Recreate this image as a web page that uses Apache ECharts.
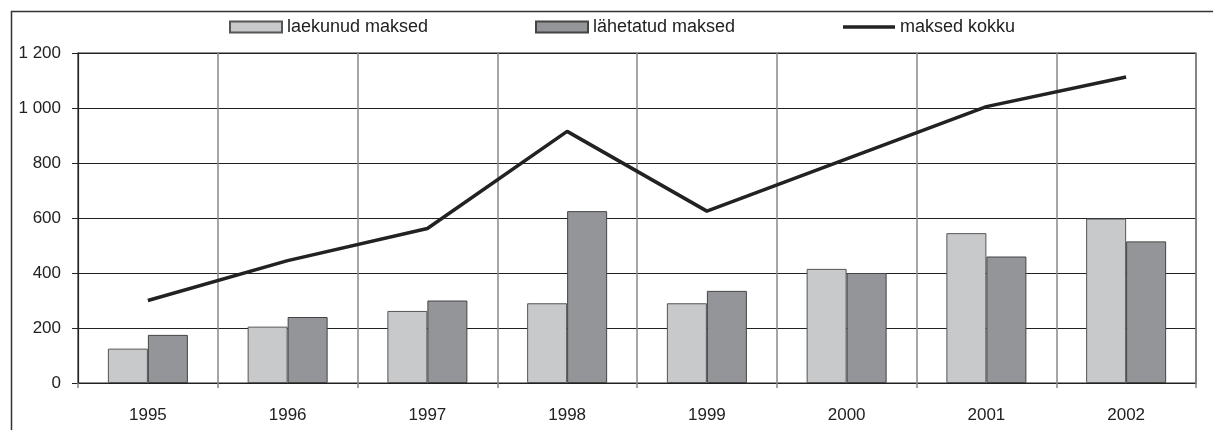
<!DOCTYPE html>
<html>
<head>
<meta charset="utf-8">
<script src="https://cdn.jsdelivr.net/npm/echarts@6/dist/echarts.min.js"></script>
<style>html,body{margin:0;padding:0;background:#fff}#c{width:1213px;height:430px}</style>
</head>
<body>
<div id="c"></div>
<script>
const categories = ['1995','1996','1997','1998','1999','2000','2001','2002'];
const received = [125, 205, 262, 290, 290, 415, 545, 598];
const sent = [175, 240, 300, 625, 335, 400, 460, 515];
const total = [300, 445, 562, 915, 625, 815, 1005, 1113];
const seriesNames = ['laekunud maksed', 'lähetatud maksed', 'maksed kokku'];
const yTicks = [0, 200, 400, 600, 800, 1000, 1200];

const font = 'Liberation Sans, Arial, sans-serif';
const chart = echarts.init(document.getElementById('c'), null, {renderer: 'canvas'});
const fmt = v => String(v).replace(/\B(?=(\d{3})+(?!\d))/g, ' ');

const legendBase = {
  top: 18, padding: 0, itemWidth: 52, itemHeight: 11, itemGap: 5,
  textStyle: {fontFamily: font, fontSize: 18, color: '#222'}
};
chart.setOption({
  animation: false,
  backgroundColor: '#fff',
  graphic: [{type: 'rect', left: 9, top: 9, shape: {width: 1220, height: 440}, style: {fill: 'none', stroke: '#333', lineWidth: 1.5}, z: 100}],
  legend: [
    Object.assign({}, legendBase, {left: 229, data: [{name: seriesNames[0], icon: 'rect'}]}),
    Object.assign({}, legendBase, {left: 535, data: [{name: seriesNames[1], icon: 'rect'}]}),
    Object.assign({}, legendBase, {left: 843,
      data: [{name: seriesNames[2], icon: 'path://M0,0 L52,0 L52,3.4 L0,3.4 Z', itemStyle: {color: '#222', borderWidth: 0}}]})
  ],
  grid: {left: 78, right: 17, top: 53, bottom: 47, show: true, borderColor: '#222', borderWidth: 1.2, backgroundColor: 'transparent'},
  xAxis: {
    type: 'category', data: categories,
    axisLine: {lineStyle: {color: '#222', width: 1.2}},
    axisTick: {show: true, length: 5, lineStyle: {color: '#888', width: 1.5}},
    splitLine: {show: true, lineStyle: {color: '#888', width: 1.5}},
    axisLabel: {fontFamily: font, fontSize: 17, color: '#222', margin: 24}
  },
  yAxis: {
    type: 'value', min: yTicks[0], max: yTicks[yTicks.length - 1], interval: 200,
    axisLine: {show: true, lineStyle: {color: '#222', width: 1.2}},
    axisTick: {show: true, length: 6, lineStyle: {color: '#222'}},
    splitLine: {show: true, lineStyle: {color: '#222', width: 1}},
    axisLabel: {fontFamily: font, fontSize: 17, color: '#222', margin: 17, formatter: fmt}
  },
  series: [
    {name: seriesNames[0], type: 'bar', data: received, barWidth: 40, barGap: '0%',
     itemStyle: {color: '#c8c9cb', borderColor: '#555', borderWidth: 1}},
    {name: seriesNames[1], type: 'bar', data: sent, barWidth: 40, barGap: '0%',
     itemStyle: {color: '#939598', borderColor: '#444', borderWidth: 1}},
    {name: seriesNames[2], type: 'line', data: total, symbol: 'none',
     lineStyle: {color: '#222', width: 3.5}, itemStyle: {color: '#222'}, z: 5}
  ]
});
</script>
</body>
</html>
